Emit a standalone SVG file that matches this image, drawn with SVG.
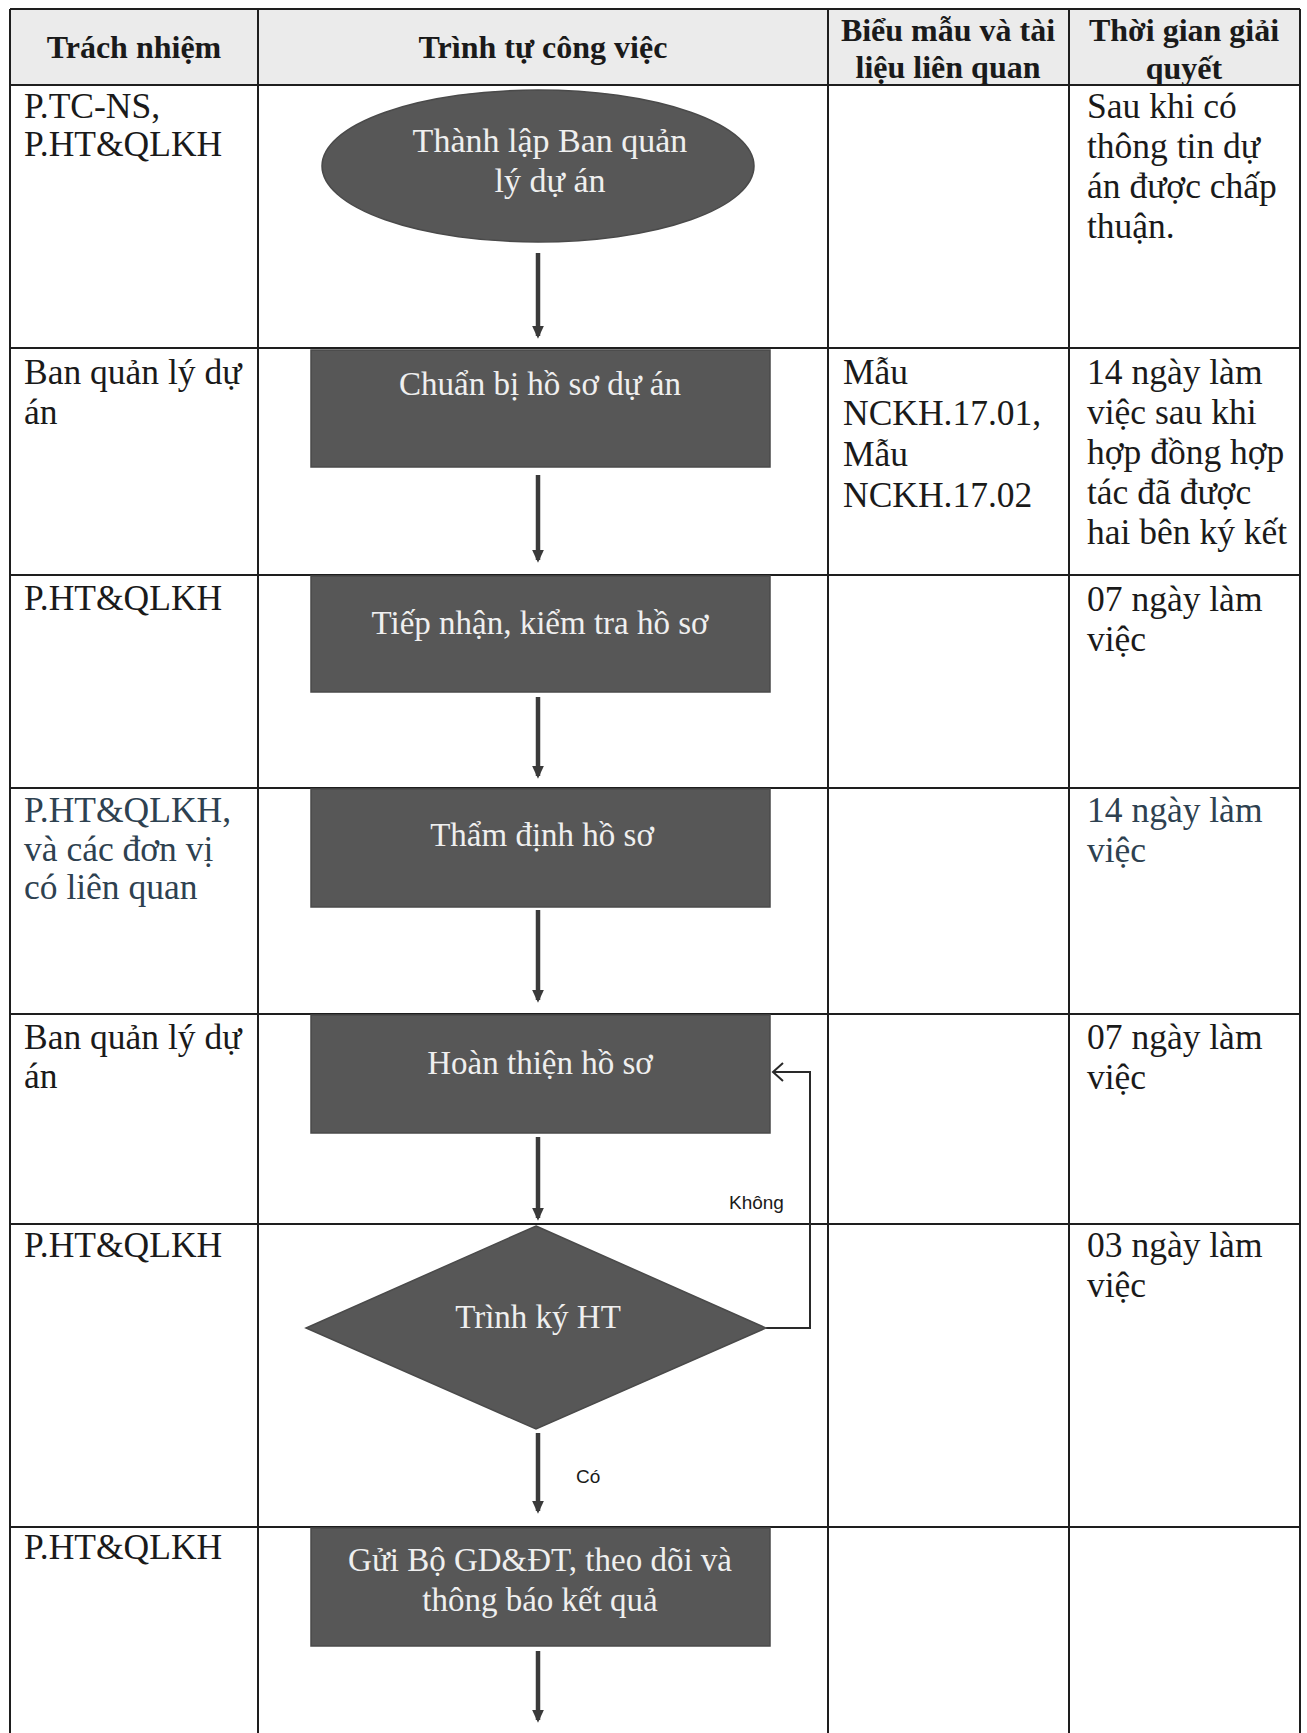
<svg xmlns="http://www.w3.org/2000/svg" width="1307" height="1733" viewBox="0 0 1307 1733">
<style>
.grid{stroke:#1e1e1e;stroke-width:2;fill:none}
.hdr{font-family:"Liberation Serif",serif;font-weight:bold;font-size:32px;fill:#1a1a1a}
.cell{font-family:"Liberation Serif",serif;font-size:35.5px;fill:#1a1a1a}
.blue{fill:#2e4150}
.node{fill:#575757;stroke:#4a4a4a;stroke-width:1.5}
.ntext{font-family:"Liberation Serif",serif;font-size:33px;fill:#efefef;text-anchor:middle}
.conn{stroke:#3a3a3a;stroke-width:4.5;fill:none}
.loop{stroke:#2a2a2a;stroke-width:2;fill:none}
.lbl{font-family:"Liberation Sans",sans-serif;font-size:19px;fill:#1a1a1a}
</style>
<defs>
<marker id="ah" markerWidth="4" markerHeight="4" refX="2.2" refY="2" orient="auto" markerUnits="strokeWidth">
<path d="M0,0.7 L2.8,2 L0,3.3 Z" fill="#3a3a3a"/>
</marker>
</defs>
<rect x="0" y="0" width="1307" height="1733" fill="#ffffff"/>
<g id="table">
<rect x="10" y="9" width="1290" height="76" fill="#ebebeb"/>
<line class="grid" x1="10" y1="9" x2="1300" y2="9"/>
<line class="grid" x1="10" y1="85" x2="1300" y2="85"/>
<line class="grid" x1="10" y1="348" x2="1300" y2="348"/>
<line class="grid" x1="10" y1="575" x2="1300" y2="575"/>
<line class="grid" x1="10" y1="788" x2="1300" y2="788"/>
<line class="grid" x1="10" y1="1014" x2="1300" y2="1014"/>
<line class="grid" x1="10" y1="1224" x2="1300" y2="1224"/>
<line class="grid" x1="10" y1="1527" x2="1300" y2="1527"/>
<line class="grid" x1="10" y1="9" x2="10" y2="1733"/>
<line class="grid" x1="258" y1="9" x2="258" y2="1733"/>
<line class="grid" x1="828" y1="9" x2="828" y2="1733"/>
<line class="grid" x1="1069" y1="9" x2="1069" y2="1733"/>
<line class="grid" x1="1300" y1="9" x2="1300" y2="1733"/>
<text class="hdr" x="134" y="58" text-anchor="middle">Trách nhiệm</text>
<text class="hdr" x="543" y="58" text-anchor="middle">Trình tự công việc</text>
<text class="hdr" x="948" y="41" text-anchor="middle">Biểu mẫu và tài</text>
<text class="hdr" x="948" y="78" text-anchor="middle">liệu liên quan</text>
<text class="hdr" x="1184" y="41" text-anchor="middle">Thời gian giải</text>
<text class="hdr" x="1184" y="79" text-anchor="middle">quyết</text>
</g>
<g id="col-responsibility">
<text class="cell" x="24" y="118">P.TC-NS,</text>
<text class="cell" x="24" y="156">P.HT&amp;QLKH</text>
<text class="cell" x="24" y="384">Ban quản lý dự</text>
<text class="cell" x="24" y="424">án</text>
<text class="cell" x="24" y="610">P.HT&amp;QLKH</text>
<text class="cell blue" x="24" y="822">P.HT&amp;QLKH,</text>
<text class="cell blue" x="24" y="861">và các đơn vị</text>
<text class="cell blue" x="24" y="899">có liên quan</text>
<text class="cell" x="24" y="1049">Ban quản lý dự</text>
<text class="cell" x="24" y="1088">án</text>
<text class="cell" x="24" y="1257">P.HT&amp;QLKH</text>
<text class="cell" x="24" y="1559">P.HT&amp;QLKH</text>
</g>
<g id="col-forms">
<text class="cell" x="843" y="384">Mẫu</text>
<text class="cell" x="843" y="425">NCKH.17.01,</text>
<text class="cell" x="843" y="466">Mẫu</text>
<text class="cell" x="843" y="507">NCKH.17.02</text>
</g>
<g id="col-time">
<text class="cell" x="1087" y="118">Sau khi có</text>
<text class="cell" x="1087" y="158">thông tin dự</text>
<text class="cell" x="1087" y="198">án được chấp</text>
<text class="cell" x="1087" y="238">thuận.</text>
<text class="cell" x="1087" y="384">14 ngày làm</text>
<text class="cell" x="1087" y="424">việc sau khi</text>
<text class="cell" x="1087" y="464">hợp đồng hợp</text>
<text class="cell" x="1087" y="504">tác đã được</text>
<text class="cell" x="1087" y="544">hai bên ký kết</text>
<text class="cell" x="1087" y="611">07 ngày làm</text>
<text class="cell" x="1087" y="651">việc</text>
<text class="cell blue" x="1087" y="822">14 ngày làm</text>
<text class="cell blue" x="1087" y="862">việc</text>
<text class="cell" x="1087" y="1049">07 ngày làm</text>
<text class="cell" x="1087" y="1089">việc</text>
<text class="cell" x="1087" y="1257">03 ngày làm</text>
<text class="cell" x="1087" y="1297">việc</text>
</g>
<g id="connectors">
<line class="conn" x1="538" y1="253" x2="538" y2="336" marker-end="url(#ah)"/>
<line class="conn" x1="538" y1="475" x2="538" y2="560" marker-end="url(#ah)"/>
<line class="conn" x1="538" y1="697" x2="538" y2="776" marker-end="url(#ah)"/>
<line class="conn" x1="538" y1="910" x2="538" y2="1000" marker-end="url(#ah)"/>
<line class="conn" x1="538" y1="1137" x2="538" y2="1218" marker-end="url(#ah)"/>
<line class="conn" x1="538" y1="1433" x2="538" y2="1511" marker-end="url(#ah)"/>
<line class="conn" x1="538" y1="1651" x2="538" y2="1720" marker-end="url(#ah)"/>
<polyline class="loop" points="766,1328 810,1328 810,1072 773,1072"/>
<polyline class="loop" points="783,1063 773,1072 783,1081"/>
<text class="lbl" x="729" y="1209">Không</text>
<text class="lbl" x="576" y="1483">Có</text>
</g>
<g id="node-thanh-lap">
<ellipse class="node" cx="538" cy="166" rx="216" ry="76"/>
<text class="ntext" x="550" y="152" style="font-size:34px">Thành lập Ban quản</text>
<text class="ntext" x="550" y="192" style="font-size:34px">lý dự án</text>
</g>
<g id="node-chuan-bi">
<rect class="node" x="311" y="350" width="459" height="117"/>
<text class="ntext" x="540" y="395">Chuẩn bị hồ sơ dự án</text>
</g>
<g id="node-tiep-nhan">
<rect class="node" x="311" y="576" width="459" height="116"/>
<text class="ntext" x="540" y="634">Tiếp nhận, kiểm tra hồ sơ</text>
</g>
<g id="node-tham-dinh">
<rect class="node" x="311" y="789" width="459" height="118"/>
<text class="ntext" x="542" y="846">Thẩm định hồ sơ</text>
</g>
<g id="node-hoan-thien">
<rect class="node" x="311" y="1015" width="459" height="118"/>
<text class="ntext" x="540" y="1074">Hoàn thiện hồ sơ</text>
</g>
<g id="node-trinh-ky">
<polygon class="node" points="536,1226 766,1328 536,1429 306,1328"/>
<text class="ntext" x="538" y="1328">Trình ký HT</text>
</g>
<g id="node-gui-bo">
<rect class="node" x="311" y="1528" width="459" height="118"/>
<text class="ntext" x="540" y="1571">Gửi Bộ GD&amp;ĐT, theo dõi và</text>
<text class="ntext" x="540" y="1611">thông báo kết quả</text>
</g>
</svg>
